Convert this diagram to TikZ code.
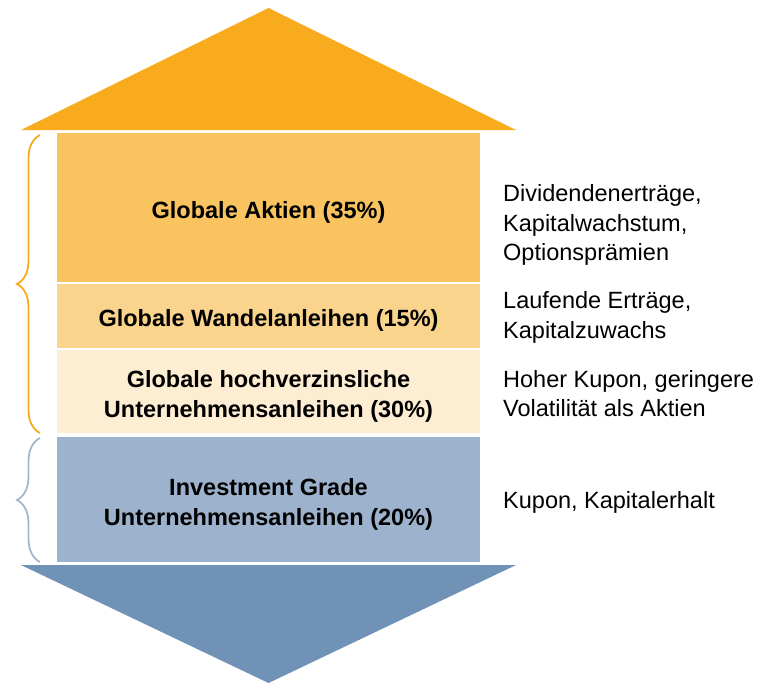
\documentclass[tikz,border=0pt]{standalone}
\usepackage{fontspec}
\setmainfont{Liberation Sans}
\usepackage{tikz}
\usetikzlibrary{positioning,decorations.pathreplacing}
\usepackage{xcolor}
\definecolor{roof}{HTML}{F8AB1D}
\definecolor{aktien}{HTML}{F9C35F}
\definecolor{wandel}{HTML}{FAD38C}
\definecolor{hoch}{HTML}{FDEDD2}
\definecolor{invest}{HTML}{9DB2CD}
\definecolor{floor}{HTML}{7092B7}
\definecolor{bluebrace}{HTML}{A3B7CE}

\begin{document}
\begin{tikzpicture}[x=1pt,y=-1pt,
	layer/.style={rectangle,minimum width=423pt,inner sep=0pt},
	layertext/.style={inner sep=0pt,align=center,
		font=\bfseries\fontsize{23.5}{30}\selectfont},
	info/.style={anchor=west,inner sep=0pt,align=left,
		font=\fontsize{23.5}{29.5}\selectfont},
	curly/.style={decorate,decoration={brace,amplitude=23pt},line width=1.8pt}]
		\useasboundingbox (0,0) rectangle (775,683);
		\begin{scope}
			% roof and floor
			\coordinate (rl) at (21,130);
			\coordinate (rt) at (268.5,8);
			\coordinate (rr) at (516,130);
			\coordinate (fl) at (21,565);
			\coordinate (fb) at (268.5,683);
			\coordinate (fr) at (516,565);
			\fill[roof] (rl) -- (rt) -- (rr) -- cycle;
			\fill[floor] (fl) -- (fb) -- (fr) -- cycle;
			% layers
			\node[layer,fill=aktien,minimum height=149pt] (1) at (268.5,207.5) {};
			\node[layer,fill=wandel,minimum height=64pt] (2) at (268.5,316) {};
			\node[layer,fill=hoch,minimum height=83pt] (3) at (268.5,391.5) {};
			\node[layer,fill=invest,minimum height=125pt] (4) at (268.5,499.5) {};
			\node[layertext] (t1) at ([yshift=-5pt]1.center) {Globale Aktien (35\%)};
			\node[layertext] (t2) at ([yshift=-4pt]2.center) {Globale Wandelanleihen (15\%)};
			\node[layertext] (t3) at ([yshift=-5pt]3.center) {Globale hochverzinsliche\\Unternehmensanleihen (30\%)};
			\node[layertext] (t4) at ([yshift=-5pt]4.center) {Investment Grade\\Unternehmensanleihen (20\%)};
			% descriptions
			\node[info] (d1) at (503,225) {Dividendenerträge,\\Kapitalwachstum,\\Optionsprämien};
			\node[info] (d2) at (503,317.5) {Laufende Erträge,\\Kapitalzuwachs};
			\node[info] (d3) at (503,393.5) {Hoher Kupon, geringere\\Volatilität als Aktien};
			\node[info] (d4) at (503,502) {Kupon, Kapitalerhalt};
			% braces
			\coordinate (b1) at (40,433);
			\coordinate (b2) at (40,135);
			\coordinate (b3) at (40,562);
			\coordinate (b4) at (40,438);
			\draw[curly,roof] (b1) -- (b2);
			\draw[curly,bluebrace] (b3) -- (b4);
		\end{scope}
	\end{tikzpicture}
\end{document}
